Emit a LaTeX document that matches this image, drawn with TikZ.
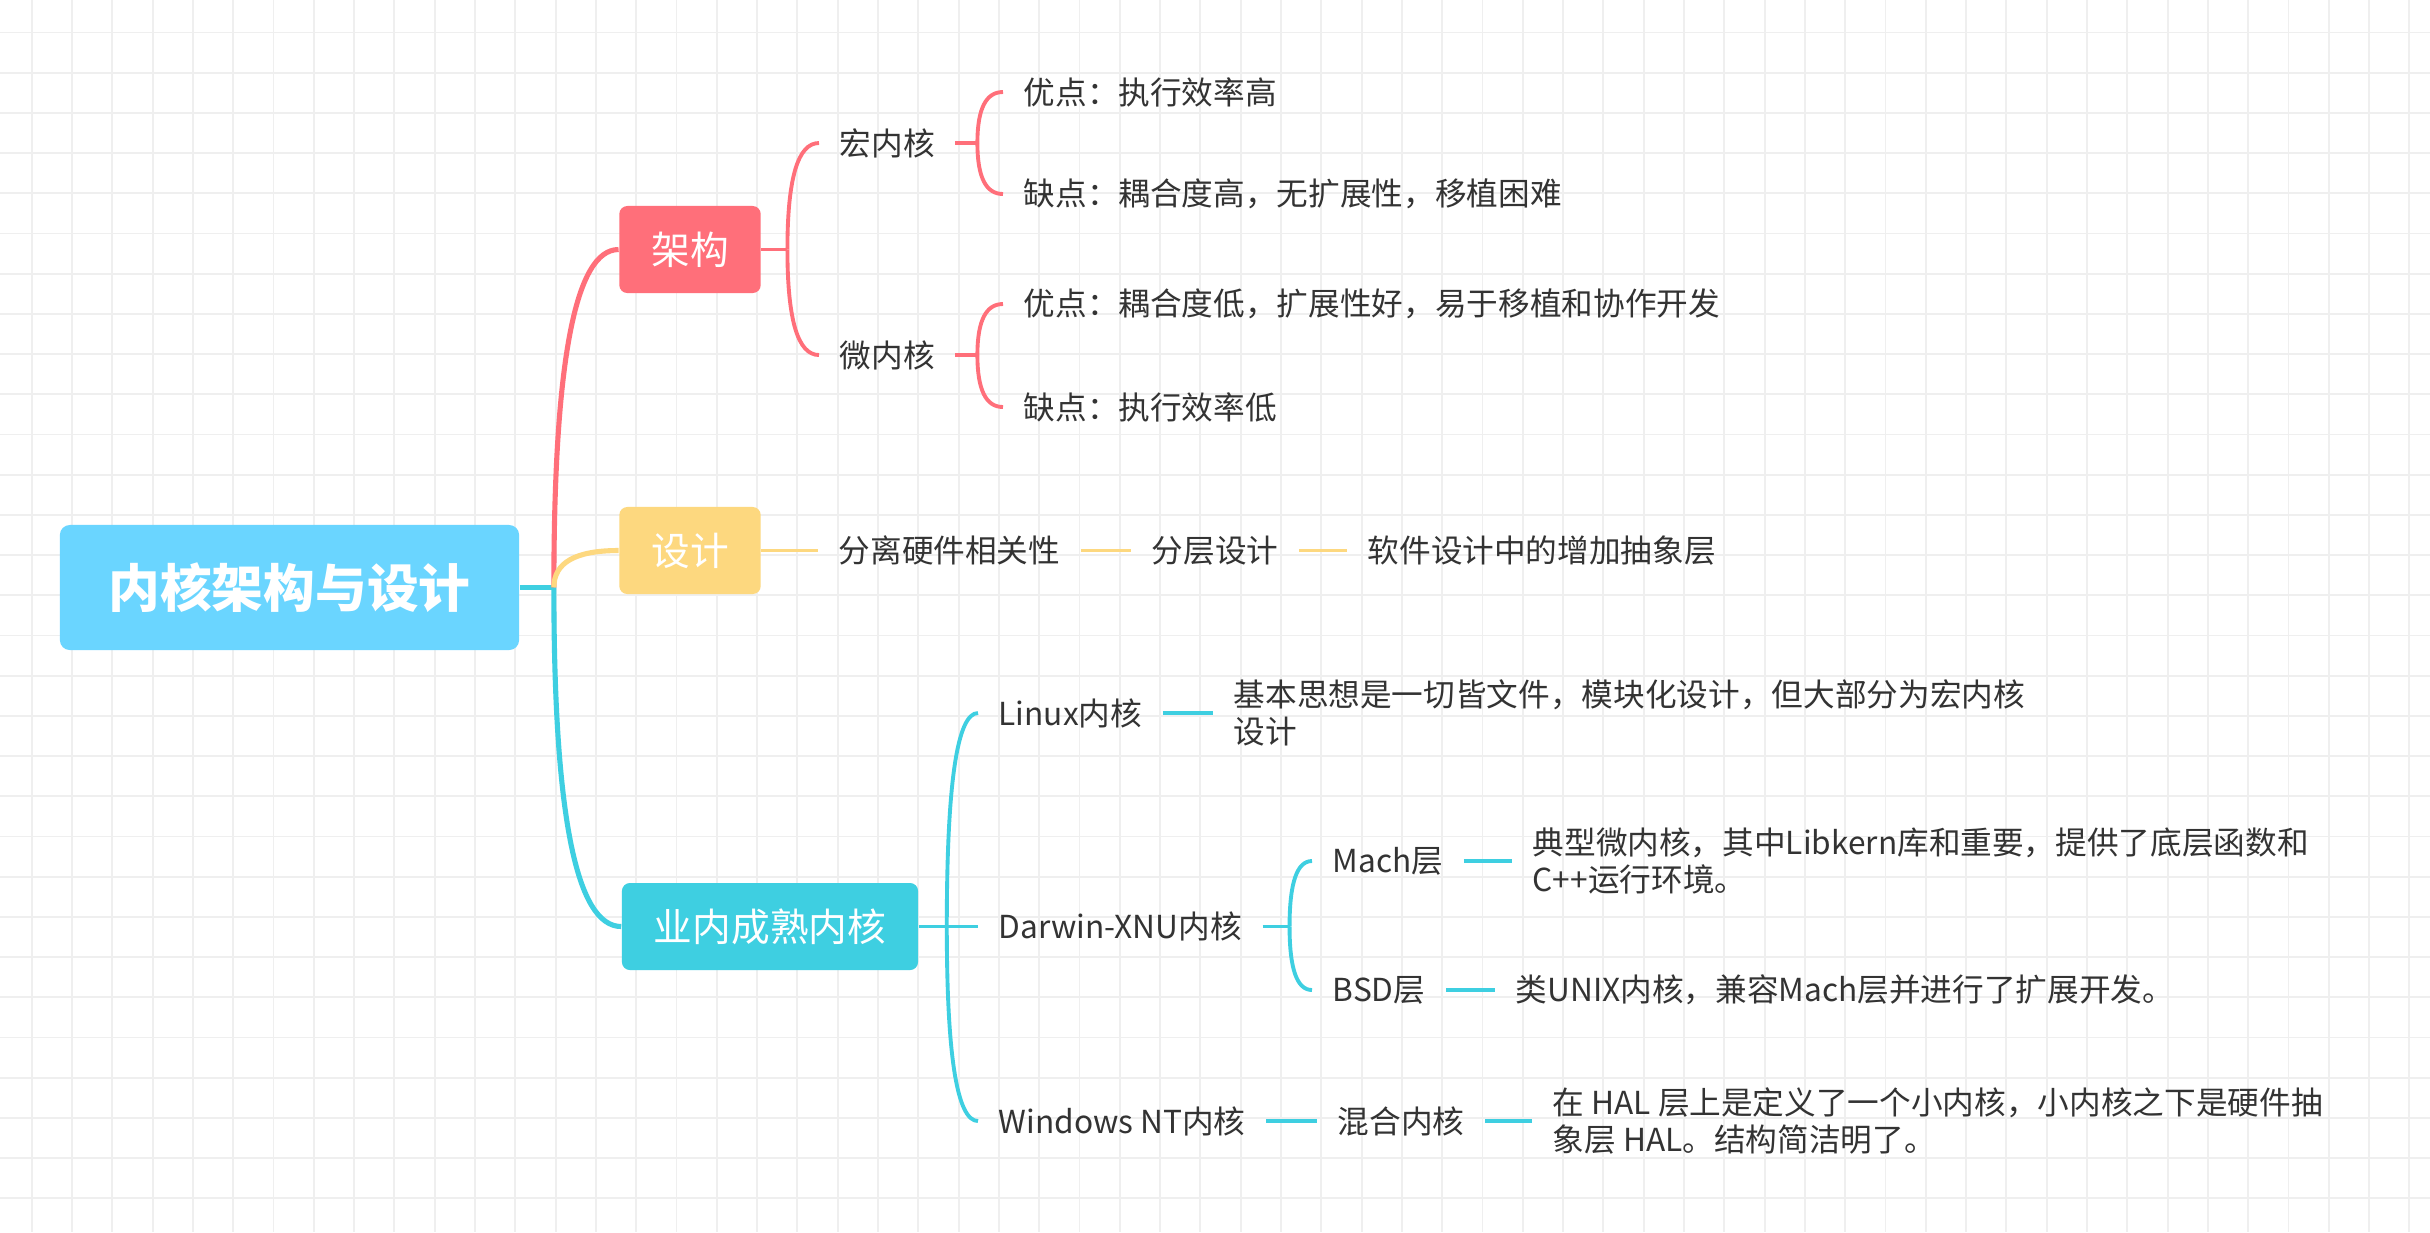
\documentclass[tikz,border=0pt]{standalone}
\usepackage{fontspec}
\setmainfont{Noto Sans CJK SC}
\usetikzlibrary{calc,positioning}

\definecolor{rootblue}{HTML}{6AD5FF}
\definecolor{archred}{HTML}{FF6F7A}
\definecolor{designyellow}{HTML}{FDD87F}
\definecolor{kernelcyan}{HTML}{3ECFE1}
\definecolor{ink}{HTML}{333333}
\definecolor{gridgray}{HTML}{EFEFEF}

\begin{document}
\begin{tikzpicture}[x=0.01cm,y=-0.01cm,
    gridline/.style={draw=gridgray, line width=0.55pt},
    rootbox/.style={fill=rootblue, rounded corners=0.1cm, minimum width=4.59cm,
      minimum height=1.25cm, text=white, font=\fontsize{14.7}{17}\selectfont\bfseries},
    topic/.style={rounded corners=0.08cm, minimum height=0.87cm, inner xsep=0.32cm,
      text=white, font=\fontsize{11}{13}\selectfont},
    leaf/.style={anchor=west, inner xsep=0.2cm, inner ysep=0.05cm, align=left,
      text=ink, font=\fontsize{9}{10.7}\selectfont},
    link/.style={line width=1.1pt},
    mainlink/.style={line width=1.45pt},
    twig/.style={to path={.. controls ($(\tikztostart)!0.67!(\tikztostart|-\tikztotarget)$)
      and ($(\tikztotarget)!0.67!(\tikztostart|-\tikztotarget)$) .. (\tikztotarget)}}]

\useasboundingbox (0,0) rectangle (2430,1232);
\fill[white] (0,0) rectangle (2430,1232);
\foreach \k in {0,...,59}
    \draw[gridline] ({31.7+40.3*\k},0) -- ({31.7+40.3*\k},1232);
\foreach \k in {0,...,30}
    \draw[gridline] (0,{32.5+40.2*\k}) -- (2430,{32.5+40.2*\k});

% root and main topics
\node[rootbox] (root) at (289.5,587.5) {内核架构与设计};
\node[topic, fill=archred] (arch) at (690,249.5) {架构};
\node[topic, fill=designyellow] (design) at (690,550.5) {设计};
\node[topic, fill=kernelcyan] (mature) at (770,926.5) {业内成熟内核};

% 架构
\node[leaf] (macro) at (819,143) {宏内核};
\node[leaf] (micro) at (819,355) {微内核};
\node[leaf] (macroPro) at (1003,92) {优点：执行效率高};
\node[leaf] (macroCon) at (1003,194) {缺点：耦合度高，无扩展性，移植困难};
\node[leaf] (microPro) at (1003,304) {优点：耦合度低，扩展性好，易于移植和协作开发};
\node[leaf] (microCon) at (1003,407) {缺点：执行效率低};

% 设计
\node[leaf] (separate) at (818,550.5) {分离硬件相关性};
\node[leaf] (layered) at (1131,550.5) {分层设计};
\node[leaf] (abstract) at (1347,550.5) {软件设计中的增加抽象层};

% 业内成熟内核
\node[leaf] (linux) at (978,713) {Linux内核};
\node[leaf] (linuxNote) at (1213,713) {基本思想是一切皆文件，模块化设计，但大部分为宏内核\\设计};
\node[leaf] (darwin) at (978,926.5) {Darwin-XNU内核};
\node[leaf] (mach) at (1312,861) {Mach层};
\node[leaf] (machNote) at (1512,861) {典型微内核，其中Libkern库和重要，提供了底层函数和\\C++运行环境。};
\node[leaf] (bsd) at (1312,990) {BSD层};
\node[leaf] (bsdNote) at (1495,990) {类UNIX内核，兼容Mach层并进行了扩展开发。};
\node[leaf] (windows) at (978,1121) {Windows NT内核};
\node[leaf] (hybrid) at (1317,1121) {混合内核};
\node[leaf] (halNote) at (1532,1121) {在 HAL 层上是定义了一个小内核，小内核之下是硬件抽\\象层 HAL。结构简洁明了。};

% junctions
\coordinate[right=0.34cm of root.east] (jRoot);
\coordinate[right=0.26cm of arch.east] (jArch);
\coordinate[right=0.22cm of macro.east] (jMacro);
\coordinate[right=0.22cm of micro.east] (jMicro);
\coordinate[right=0.28cm of mature.east] (jMature);
\coordinate[right=0.27cm of darwin.east] (jDarwin);

% connectors
\draw[mainlink, kernelcyan] (root.east) -- (jRoot);
\draw[mainlink, archred] (jRoot) to[twig] (arch.west);
\draw[mainlink, designyellow] (jRoot) to[twig] (design.west);
\draw[mainlink, kernelcyan] (jRoot) to[twig] (mature.west);

\draw[link, archred] (arch.east) -- (jArch);
\draw[link, archred] (jArch) to[twig] (macro.west);
\draw[link, archred] (jArch) to[twig] (micro.west);
\draw[link, archred] (macro.east) -- (jMacro);
\draw[link, archred] (jMacro) to[twig] (macroPro.west);
\draw[link, archred] (jMacro) to[twig] (macroCon.west);
\draw[link, archred] (micro.east) -- (jMicro);
\draw[link, archred] (jMicro) to[twig] (microPro.west);
\draw[link, archred] (jMicro) to[twig] (microCon.west);

\draw[link, designyellow] (design.east) -- (separate.west);
\draw[link, designyellow] (separate.east) -- (layered.west);
\draw[link, designyellow] (layered.east) -- (abstract.west);

\draw[link, kernelcyan] (mature.east) -- (darwin.west);
\draw[link, kernelcyan] (jMature) to[twig] (linux.west);
\draw[link, kernelcyan] (jMature) to[twig] (windows.west);
\draw[link, kernelcyan] (linux.east) -- (linuxNote.west);
\draw[link, kernelcyan] (darwin.east) -- (jDarwin);
\draw[link, kernelcyan] (jDarwin) to[twig] (mach.west);
\draw[link, kernelcyan] (jDarwin) to[twig] (bsd.west);
\draw[link, kernelcyan] (mach.east) -- (machNote.west);
\draw[link, kernelcyan] (bsd.east) -- (bsdNote.west);
\draw[link, kernelcyan] (windows.east) -- (hybrid.west);
\draw[link, kernelcyan] (hybrid.east) -- (halNote.west);
\end{tikzpicture}
\end{document}
